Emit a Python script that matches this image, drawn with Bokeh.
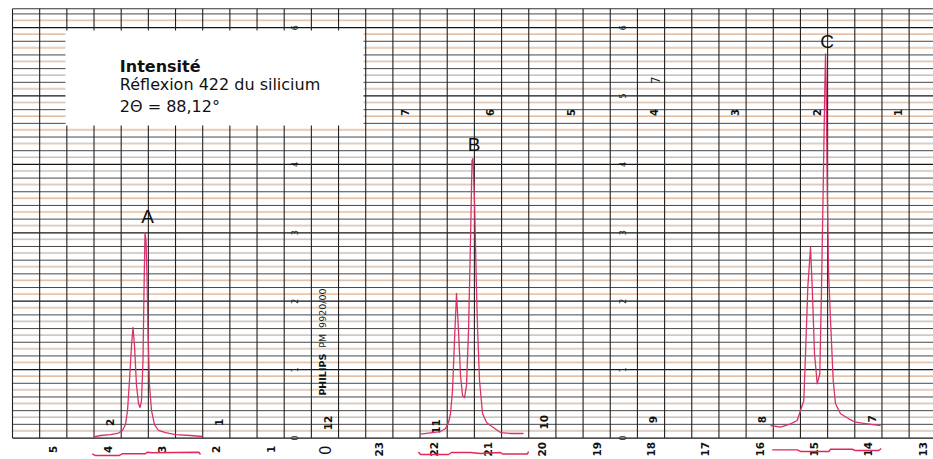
import numpy as np
from bokeh.plotting import figure
from bokeh.models import Range1d
from bokeh.core.properties import value
from bokeh.embed import file_html
from bokeh.resources import INLINE

# ---------------- data (x: chart divisions, y: intensity units) ----------------
trace_a_x = [2.981, 3.239, 3.607, 3.901, 4.049, 4.159, 4.233, 4.306, 4.380, 4.435, 4.490, 4.564,
             4.638, 4.693, 4.748, 4.803, 4.840, 4.877, 4.913, 4.950, 4.987, 5.042, 5.116, 5.226,
             5.374, 5.631, 5.999, 6.551, 6.993]
trace_a_y = [0.015, 0.037, 0.051, 0.073, 0.110, 0.197, 0.402, 0.840, 1.352, 1.616, 1.352, 0.768,
             0.504, 0.446, 0.548, 1.133, 2.156, 3.004, 2.887, 2.376, 1.572, 0.768, 0.402, 0.197,
             0.110, 0.080, 0.051, 0.037, 0.022]

trace_b_x = [15.017, 15.458, 15.753, 15.937, 16.047, 16.121, 16.194, 16.268, 16.342, 16.415, 16.489,
             16.563, 16.636, 16.710, 16.784, 16.857, 16.912, 16.949, 17.004, 17.078, 17.115, 17.188,
             17.299, 17.446, 17.593, 17.961, 18.329, 18.808]
trace_b_y = [0.058, 0.080, 0.095, 0.139, 0.227, 0.358, 0.694, 1.425, 2.113, 1.572, 0.914,
             0.621, 0.592, 0.768, 1.572, 2.887, 4.057, 4.086, 3.472, 2.156, 1.616, 0.840,
             0.358, 0.227, 0.183, 0.080, 0.066, 0.066]

trace_c_x = [27.899, 28.267, 28.635, 28.881, 29.003, 29.124, 29.187, 29.271, 29.371, 29.433, 29.518,
             29.617, 29.713, 29.776, 29.838, 29.897, 29.923, 29.948, 29.985, 30.033, 30.107, 30.206,
             30.291, 30.475, 30.780, 31.027, 31.458, 31.947]
trace_c_y = [0.183, 0.158, 0.208, 0.256, 0.402, 0.548, 1.235, 2.205, 2.789, 2.205, 1.235,
             0.792, 0.939, 2.205, 3.667, 5.129, 5.617, 5.129, 3.667, 2.449, 1.718, 0.841,
             0.500, 0.354, 0.281, 0.231, 0.208, 0.183]

bracket_a_x = [2.933, 3.055, 3.912, 4.038, 4.895, 4.958, 5.142, 6.857, 6.919]
bracket_a_y = [-0.231, -0.256, -0.256, -0.231, -0.231, -0.208, -0.216, -0.208, -0.241]
bracket_b_x = [14.943, 15.017, 16.047, 16.158, 16.857, 17.225, 17.961, 18.035, 18.955, 18.991]
bracket_b_y = [-0.205, -0.241, -0.241, -0.212, -0.212, -0.227, -0.212, -0.234, -0.234, -0.197]
bracket_c_x = [27.961, 28.881, 29.003, 30.044, 30.107, 30.905, 31.027, 31.885, 31.973]
bracket_c_y = [-0.173, -0.173, -0.197, -0.197, -0.164, -0.164, -0.183, -0.183, -0.154]

peak_labels = ["A", "B", "C"]
peak_label_x = [4.969, 16.985, 29.978]
peak_label_y = [3.238, 4.291, 5.797]

bottom_labels = ["5", "4", "3", "2", "1", "0", "23", "22", "21", "20", "19", "18", "17", "16", "15", "14", "13"]
bottom_label_x = [1.5, 3.5, 5.5, 7.5, 9.5, 11.5, 13.5, 15.5, 17.5, 19.5, 21.5, 23.5, 25.5, 27.5, 29.5, 31.5, 33.5]

low_count_labels = ["2", "1", "12", "11", "10", "9", "8", "7"]
low_count_x = [3.60, 7.60, 11.62, 15.60, 19.55, 23.58, 27.60, 31.65]
low_count_y = [0.23, 0.23, 0.22, 0.17, 0.23, 0.27, 0.27, 0.28]

high_count_labels = ["7", "6", "5", "4", "3", "2", "1"]
high_count_x = [14.46, 17.56, 20.57, 23.60, 26.60, 29.62, 32.60]
high_count_y = [4.76, 4.76, 4.76, 4.76, 4.76, 4.76, 4.76]

scale_labels_1 = ["0", "1", "2", "3", "4", "6"]
scale_values_1 = [0, 1, 2, 3, 4, 6]
scale_labels_2 = ["0", "1", "2", "3", "4", "5", "6"]
scale_values_2 = [0, 1, 2, 3, 4, 5, 6]

title_lines = ["Intensité", "Réflexion 422 du silicium", "2Θ = 88,12°"]

# ---------------- figure ----------------
p = figure(width=933, height=459, output_backend="svg", toolbar_location=None,
           x_range=Range1d(-0.4417, 33.897), y_range=Range1d(-0.314, 6.396),
           min_border=0, background_fill_color="white", border_fill_color="white")
p.axis.visible = False
p.grid.visible = False
p.outline_line_color = None

GRID_TOP = 6.275
N_VERT = 34
X_RIGHT = 33.897

# horizontal chart-paper lines
odd_ys, even_ys, unit_ys = [], [], []
for t in range(0, 63):
    yy = t / 10.0
    if t % 10 == 0:
        unit_ys.append(yy)
    elif t % 2 == 0:
        even_ys.append(yy)
    else:
        odd_ys.append(yy)
p.multi_line(xs=[[0, X_RIGHT]] * len(odd_ys), ys=[[y, y] for y in odd_ys],
             line_color="#dfac84", line_width=0.9, line_alpha=0.9)
p.multi_line(xs=[[0, X_RIGHT]] * len(odd_ys), ys=[[y + 0.014, y + 0.014] for y in odd_ys],
             line_color="#777777", line_width=0.6, line_alpha=0.45)
p.multi_line(xs=[[0, X_RIGHT]] * len(even_ys), ys=[[y, y] for y in even_ys],
             line_color="#333333", line_width=0.9)
p.multi_line(xs=[[0, X_RIGHT]] * len(unit_ys), ys=[[y, y] for y in unit_ys],
             line_color="#151515", line_width=1.25)
p.multi_line(xs=[[0, X_RIGHT]], ys=[[GRID_TOP, GRID_TOP]], line_color="#333333", line_width=1.1)

# vertical lines
p.multi_line(xs=[[k, k] for k in range(N_VERT)], ys=[[0, GRID_TOP]] * N_VERT,
             line_color="#222222", line_width=1.1)

# paper printed numbers
TXT = value("DejaVu Sans")
p.text(x=low_count_x, y=low_count_y, text=low_count_labels, angle=np.pi / 2,
       text_font=TXT, text_font_style="bold", text_font_size="10.5px",
       text_align="center", text_baseline="middle", text_color="#111111")
p.text(x=high_count_x, y=high_count_y, text=high_count_labels, angle=np.pi / 2,
       text_font=TXT, text_font_style="bold", text_font_size="10px",
       text_align="center", text_baseline="middle", text_color="#111111")
p.text(x=[10.38] * len(scale_values_1), y=scale_values_1, text=scale_labels_1, angle=np.pi / 2,
       text_font=TXT, text_font_size="8px", text_align="center", text_baseline="middle",
       text_color="#222222")
p.text(x=[22.45] * len(scale_values_2), y=scale_values_2, text=scale_labels_2, angle=np.pi / 2,
       text_font=TXT, text_font_size="8px", text_align="center", text_baseline="middle",
       text_color="#222222")
p.text(x=[23.67], y=[5.23], text=["7"], angle=np.pi / 2, text_font=TXT, text_font_size="12px",
       text_align="center", text_baseline="middle", text_color="#222222")
p.text(x=[11.41], y=[0.62], text=["PHILIPS"], angle=np.pi / 2, text_font=TXT,
       text_font_style="bold", text_font_size="9.5px", text_align="left", text_baseline="middle",
       text_color="#111111")
p.text(x=[11.41, 11.41], y=[1.32, 1.61], text=["PM", "9920/00"], angle=np.pi / 2, text_font=TXT,
       text_font_size="9.5px", text_align="left", text_baseline="middle", text_color="#222222")

# bottom scale (below the grid)
bl = [(x, t) for x, t in zip(bottom_label_x, bottom_labels) if t != "0"]
p.text(x=[b[0] for b in bl], y=[-0.165] * len(bl), text=[b[1] for b in bl], angle=np.pi / 2,
       text_font=TXT, text_font_style="bold", text_font_size="10.5px",
       text_align="center", text_baseline="middle", text_color="#111111")
zx = [x for x, t in zip(bottom_label_x, bottom_labels) if t == "0"]
p.text(x=zx, y=[-0.18], text=["0"], angle=np.pi / 2, text_font=TXT, text_font_size="15px",
       text_align="center", text_baseline="middle", text_color="#111111")

# brackets
for bx, by in [(bracket_a_x, bracket_a_y), (bracket_b_x, bracket_b_y), (bracket_c_x, bracket_c_y)]:
    p.line(bx, by, line_color="#e0285a", line_width=1.4)

# title box
p.quad(left=[1.951], right=[12.919], bottom=[4.569], top=[5.958], fill_color="white",
       line_color=None)
p.text(x=[3.95], y=[5.435], text=[title_lines[0]], text_font=TXT, text_font_style="bold",
       text_font_size="16px", text_baseline="alphabetic", text_color="#111111")
p.text(x=[3.95, 3.95], y=[5.168, 4.846], text=title_lines[1:], text_font=TXT,
       text_font_size="16px", text_baseline="alphabetic", text_color="#111111")

# traces
for tx, ty in [(trace_a_x, trace_a_y), (trace_b_x, trace_b_y), (trace_c_x, trace_c_y)]:
    p.line(tx, ty, line_color="#d6336c", line_width=1.3, line_join="round")

# peak labels
p.text(x=peak_label_x, y=peak_label_y, text=peak_labels, text_font=value("Liberation Sans"),
       text_font_size="19px", text_align="center", text_baseline="middle", text_color="#111111")

open("out.html", "w").write(file_html(p, INLINE))
